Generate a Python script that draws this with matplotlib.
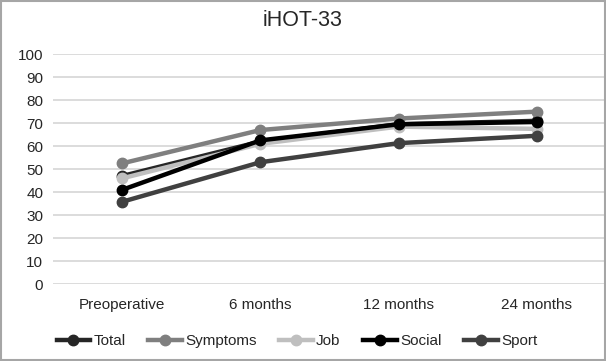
import matplotlib
matplotlib.use('Agg')
import matplotlib.pyplot as plt
from matplotlib.patches import Rectangle

matplotlib.rc('font', family='Liberation Sans')

categories = ['Preoperative', '6 months', '12 months', '24 months']
total = [47, 62, 69.5, 71]
symptoms = [52.5, 67, 72, 75]
job = [46, 61, 68.5, 67.5]
social = [41, 62.5, 69.5, 70.5]
sport = [35.8, 53, 61.3, 64.5]

series = [('Total', total, '#262626'),
          ('Symptoms', symptoms, '#7f7f7f'),
          ('Job', job, '#bfbfbf'),
          ('Social', social, '#000000'),
          ('Sport', sport, '#404040')]

fig = plt.figure(figsize=(6.06, 3.61), dpi=100)
ax = fig.add_axes([0.0875, 0.213, 0.9125, 0.637])
x = range(len(categories))
for name, vals, col in series:
    ax.plot(x, vals, color=col, linewidth=3.2, marker='o', markersize=7.5, label=name, zorder=3)

ax.set_xlim(-0.5, 3.5)
ax.set_ylim(0, 100)
ax.set_yticks(range(0, 101, 10))
ax.set_xticks(list(x))
ax.set_xticklabels(categories)
ax.grid(axis='y', color='#d9d9d9', linewidth=1.3)
ax.set_axisbelow(True)
for s in ax.spines.values():
    s.set_visible(False)
ax.tick_params(length=0, labelsize=11, colors='#262626')
ax.tick_params(axis='x', pad=10)
ax.tick_params(axis='y', pad=7)

fig.text(0.5, 0.942, 'iHOT-33', ha='center', va='center', fontsize=15.5, color='#262626')
leg = fig.legend(loc='center', bbox_to_anchor=(0.49, 0.055), ncol=5, frameon=False,
                 fontsize=11, handlelength=2.2, handletextpad=0.2, columnspacing=1.5)
for t in leg.get_texts():
    t.set_color('#262626')
fig.patches.append(Rectangle((0.002, 0.003), 0.996, 0.994, transform=fig.transFigure,
                             fill=False, edgecolor='#a6a6a6', linewidth=1.5))
fig.savefig('out.png', dpi=100)
